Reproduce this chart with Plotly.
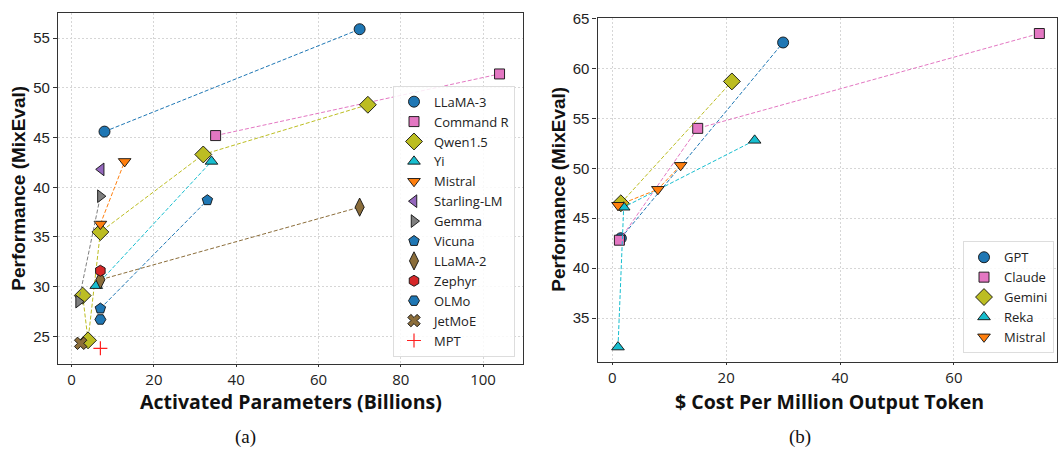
import plotly.graph_objects as go

W, H = 1058, 453

def fx(px):
    return px / W

def fy(py):
    return 1 - py / H

# ---------------- (a) Activated parameters vs performance ----------------
a_names = ["LLaMA-3", "Command R", "Qwen1.5", "Yi", "Mistral", "Starling-LM", "Gemma",
           "Vicuna", "LLaMA-2", "Zephyr", "OLMo", "JetMoE", "MPT"]
a_params = [
    [8, 70],
    [35, 104],
    [2.7, 4, 7, 32, 72],
    [6, 34],
    [7, 12.9],
    [7.2],
    [1.7, 7],
    [7, 33],
    [7, 70],
    [7],
    [7],
    [2.2],
    [7],
]
a_perf = [
    [45.6, 55.9],
    [45.2, 51.4],
    [29.1, 24.6, 35.5, 43.3, 48.3],
    [30.1, 42.6],
    [36.3, 42.6],
    [41.8],
    [28.5, 39.1],
    [27.8, 38.7],
    [30.7, 38.0],
    [31.6],
    [26.7],
    [24.3],
    [23.8],
]
a_colors = ["#1f77b4", "#e377c2", "#bcbd22", "#17becf", "#ff7f0e", "#9467bd", "#7f7f7f",
            "#1f77b4", "#8b6d3a", "#d62728", "#1f77b4", "#8b6d3a", "#ff2020"]
a_symbols = ["circle", "square", "diamond", "triangle-up", "triangle-down", "triangle-left",
             "triangle-right", "pentagon", "diamond-tall", "hexagon", "hexagon2", "x", "cross-thin"]
a_sizes = [11, 10, 13, 11, 11, 11, 11, 11, 13, 11, 11, 11, 10]

# ---------------- (b) Cost vs performance ----------------
b_names = ["GPT", "Claude", "Gemini", "Reka", "Mistral"]
b_cost = [
    [1.5, 30],
    [1.25, 15, 75],
    [1.5, 21],
    [1, 2, 25],
    [1, 8, 12],
]
b_perf = [
    [43.0, 62.6],
    [42.8, 54.0, 63.5],
    [46.5, 58.7],
    [32.1, 46.1, 52.8],
    [46.3, 47.9, 50.3],
]
b_colors = ["#1f77b4", "#e377c2", "#bcbd22", "#17becf", "#ff7f0e"]
b_symbols = ["circle", "square", "diamond", "triangle-up", "triangle-down"]
b_sizes = [11, 10, 13, 11, 11]

fig = go.Figure()

def add_series(xs, ys, name, color, symbol, size, xaxis, yaxis, legend):
    if len(xs) > 1:
        fig.add_trace(go.Scatter(
            x=xs, y=ys, mode="lines", showlegend=False, hoverinfo="skip",
            line=dict(color=color, width=1, dash="4px,2px"),
            xaxis=xaxis, yaxis=yaxis))
    thin = symbol.endswith("-thin")
    fig.add_trace(go.Scatter(
        x=xs, y=ys, mode="markers", name=name, legend=legend,
        marker=dict(symbol=symbol, size=size, color=color,
                    line=dict(color=color if thin else "#111111", width=1.2 if thin else 0.9)),
        xaxis=xaxis, yaxis=yaxis))

for i, n in enumerate(a_names):
    add_series(a_params[i], a_perf[i], n, a_colors[i], a_symbols[i], a_sizes[i], "x", "y", "legend")
for i, n in enumerate(b_names):
    add_series(b_cost[i], b_perf[i], n, b_colors[i], b_symbols[i], b_sizes[i], "x2", "y2", "legend2")

axis_common = dict(
    showline=True, mirror=True, linecolor="#333333", linewidth=1.3,
    ticks="outside", tickcolor="#333333", tickwidth=1,
    showgrid=True, gridcolor="#d6d6d6", gridwidth=0.8, griddash="2px,2px",
    zeroline=False,
)
xtick_font = dict(family="Open Sans", size=15, color="#222222")
ytick_font = dict(family="Liberation Sans", size=15, color="#222222")

legend_common = dict(
    xanchor="right", yanchor="bottom",
    bgcolor="rgba(255,255,255,0.85)", bordercolor="#dddddd", borderwidth=1,
    font=dict(family="Open Sans", size=13, color="#222222"),
    tracegroupgap=0, itemsizing="trace",
)

fig.update_layout(
    width=W, height=H, autosize=False,
    margin=dict(l=0, r=0, t=0, b=0),
    paper_bgcolor="white", plot_bgcolor="white",
    xaxis=dict(domain=[fx(58), fx(523)], range=[-3.3, 109.7], tickvals=[0, 20, 40, 60, 80, 100],
               anchor="y", tickfont=xtick_font, ticklen=2, **axis_common),
    yaxis=dict(domain=[fy(362), fy(5)], range=[22.26, 57.54], tickvals=[25, 30, 35, 40, 45, 50, 55],
               anchor="x", tickfont=ytick_font, ticklen=4, **axis_common),
    xaxis2=dict(domain=[fx(597.5), fx(1057)], range=[-2.6, 78.1], tickvals=[0, 20, 40, 60],
                anchor="y2", tickfont=xtick_font, ticklen=2, **axis_common),
    yaxis2=dict(domain=[fy(360), fy(10)], range=[30.64, 65.07], tickvals=[35, 40, 45, 50, 55, 60, 65],
                anchor="x2", tickfont=ytick_font, ticklen=4, **axis_common),
    legend=dict(x=fx(515), y=fy(355), **legend_common),
    legend2=dict(x=fx(1054), y=fy(351.5), **legend_common),
    showlegend=True,
)

xtitle_font = dict(family="Open Sans", size=19.5, color="#111111")
ytitle_font = dict(family="Liberation Sans", size=19, color="#111111")
cap_font = dict(family="Liberation Serif", size=19, color="#111111")
annots = [
    dict(text="<b>Activated Parameters (Billions)</b>", x=fx(290.5), y=fy(401), font=xtitle_font),
    dict(text="<b>$ Cost Per Million Output Token</b>", x=fx(829), y=fy(401), font=xtitle_font),
    dict(text="<b>Performance (MixEval)</b>", x=fx(19), y=fy(184), textangle=-90, font=ytitle_font),
    dict(text="<b>Performance (MixEval)</b>", x=fx(559), y=fy(185), textangle=-90, font=ytitle_font),
    dict(text="(a)", x=fx(245), y=fy(437), font=cap_font),
    dict(text="(b)", x=fx(800), y=fy(437), font=cap_font),
]
for an in annots:
    fig.add_annotation(xref="paper", yref="paper", showarrow=False, xanchor="center", yanchor="middle", **an)

# remove the default page margin so the figure sits at the window's top-left corner
fig.write_html("out.html", config={"displayModeBar": False},
               post_script="document.body.style.margin='0px';")
